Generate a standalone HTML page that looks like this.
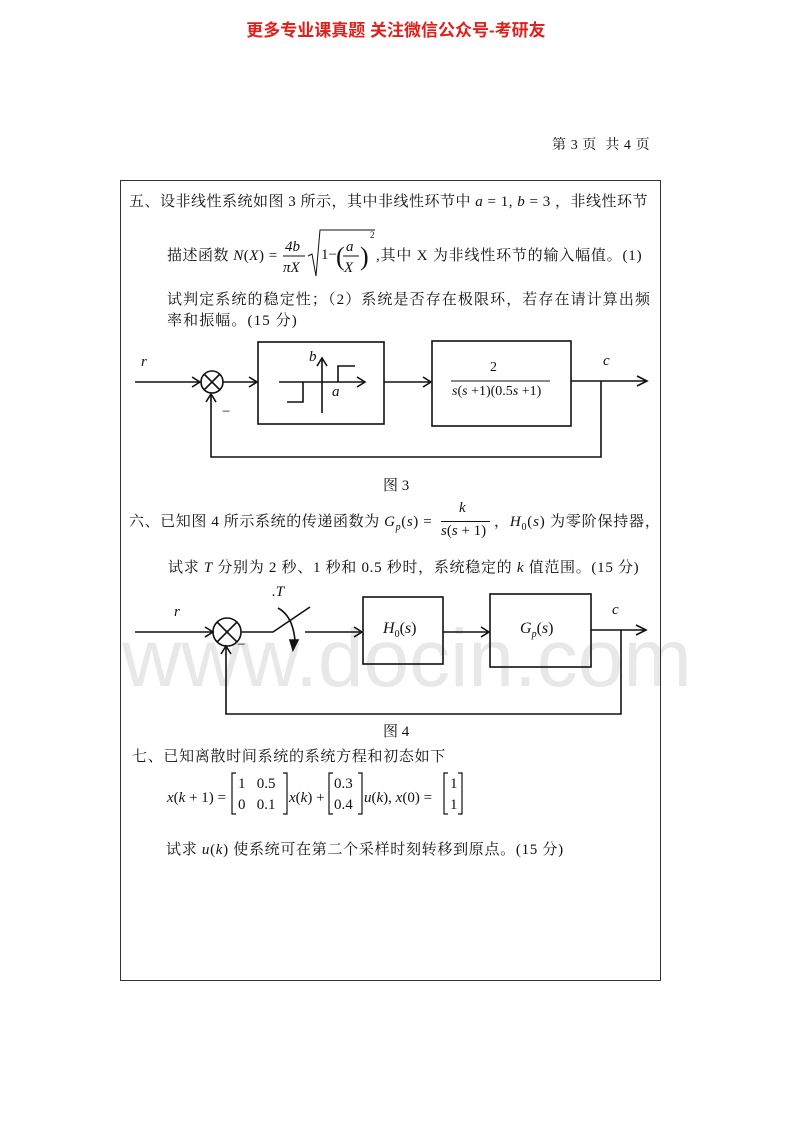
<!DOCTYPE html>
<html><head><meta charset="utf-8"><style>
body{margin:0;background:#fff;}
#p{position:relative;width:792px;height:1122px;overflow:hidden;font-family:"Liberation Serif","Noto Serif CJK SC","Noto Sans CJK SC",serif;color:#111;}
.t{position:absolute;white-space:nowrap;font-size:15px;}
.i{font-style:italic;}
</style></head><body><div id="p">
<div class="t" style="left:122px;top:612px;font-size:82px;color:#e8e8e8;font-family:'Liberation Sans',sans-serif;">www.docin.com</div>
<div class="t" style="left:0;width:792px;text-align:center;top:16px;font-size:17px;font-weight:bold;color:#e0201c;font-family:'Liberation Sans','Noto Sans CJK SC',sans-serif;">更多专业课真题 关注微信公众号-考研友</div>
<div class="t" style="left:552px;top:134px;font-size:14px;letter-spacing:0.6px;">第 3 页&nbsp;&nbsp;共 4 页</div>
<div style="position:absolute;left:120px;top:180px;width:539px;height:799px;border:1.5px solid #333;"></div>

<div class="t" style="left:129px;top:190px;letter-spacing:0.5px;">五、设非线性系统如图 3 所示，其中非线性环节中 <span class="i">a</span> = 1, <span class="i">b</span> = 3 ，非线性环节</div>
<div class="t" style="left:167px;top:244px;letter-spacing:0.5px;">描述函数 <span class="i">N</span>(<span class="i">X</span>) =</div>
<svg style="position:absolute;left:0;top:0" width="792" height="1122">
<g font-family="Liberation Serif" font-style="italic" font-size="15" fill="#111">
<text x="285" y="251">4b</text><line x1="283" y1="256" x2="305" y2="256" stroke="#111"/><text x="283" y="272">πX</text>
<polyline points="308,256 312,254 316,276 320,230 375,230" fill="none" stroke="#111"/>
<text x="321" y="259" font-style="normal">1−</text>
<text x="336" y="265" font-style="normal" font-size="26">(</text>
<text x="346" y="251">a</text><line x1="343" y1="256" x2="359" y2="256" stroke="#111"/><text x="344" y="272">X</text>
<text x="360" y="265" font-style="normal" font-size="26">)</text>
<text x="370" y="238" font-style="normal" font-size="9">2</text>
</g>
</svg>
<div class="t" style="left:376px;top:244px;letter-spacing:0.8px;">,其中 X 为非线性环节的输入幅值。(1)</div>
<div class="t" style="left:167px;top:288px;letter-spacing:1.1px;">试判定系统的稳定性；（2）系统是否存在极限环，若存在请计算出频</div>
<div class="t" style="left:167px;top:309px;letter-spacing:1.1px;">率和振幅。(15 分)</div>

<svg style="position:absolute;left:0;top:0" width="792" height="1122" fill="none" stroke="#111" stroke-width="1.6">
<line x1="135" y1="382" x2="200" y2="382"/><polyline points="192,377 200,382 192,387"/>
<circle cx="212" cy="382" r="11"/><line x1="204" y1="374" x2="220" y2="390"/><line x1="220" y1="374" x2="204" y2="390"/>
<line x1="223" y1="382" x2="257" y2="382"/><polyline points="249,377 257,382 249,387"/>
<rect x="258" y="342" width="126" height="82"/>
<line x1="279" y1="382" x2="365" y2="382"/><polyline points="357,377 365,382 357,387"/>
<line x1="322" y1="413" x2="322" y2="358"/><polyline points="317,366 322,358 327,366"/>
<polyline points="287,402 303,402 303,382"/><polyline points="338,382 338,366 355,366"/>
<line x1="384" y1="382" x2="431" y2="382"/><polyline points="423,377 431,382 423,387"/>
<rect x="432" y="341" width="139" height="85"/>
<line x1="451" y1="381" x2="550" y2="381" stroke-width="1"/>
<line x1="571" y1="381" x2="647" y2="381"/><polyline points="637,376 647,381 637,386"/>
<polyline points="601,381 601,457 211,457 211,395"/><polyline points="206,402 211,394 216,402"/>
<line x1="135" y1="632" x2="213" y2="632"/><polyline points="205,627 213,632 205,637"/>
<circle cx="227" cy="632" r="14"/><line x1="217" y1="622" x2="237" y2="642"/><line x1="237" y1="622" x2="217" y2="642"/>
<polyline points="241,632 273,632 310,607"/>
<path d="M278,608 Q293,616 295,641"/><polygon points="290,640 298,640 293,650" fill="#111"/>
<line x1="305" y1="632" x2="362" y2="632"/><polyline points="354,627 362,632 354,637"/>
<rect x="363" y="597" width="80" height="67"/>
<line x1="443" y1="632" x2="489" y2="632"/><polyline points="481,627 489,632 481,637"/>
<rect x="490" y="594" width="101" height="73"/>
<line x1="591" y1="630" x2="646" y2="630"/><polyline points="636,625 646,630 636,635"/>
<polyline points="621,630 621,714 226,714 226,647"/><polyline points="221,654 226,646 231,654"/>
</svg>
<div class="t i" style="left:141px;top:354px;">r</div>
<div class="t i" style="left:603px;top:353px;">c</div>
<div class="t" style="left:222px;top:404px;">−</div>
<div class="t i" style="left:309px;top:349px;">b</div>
<div class="t i" style="left:332px;top:384px;">a</div>
<div class="t" style="left:490px;top:360px;font-size:14px;">2</div>
<div class="t i" style="left:452px;top:384px;font-size:14px;">s<span style="font-style:normal">(</span>s<span style="font-style:normal"> +1)(0.5</span>s<span style="font-style:normal"> +1)</span></div>
<div class="t" style="left:383px;top:474px;">图 3</div>

<div class="t" style="left:129px;top:510px;letter-spacing:0.6px;">六、已知图 4 所示系统的传递函数为 <span class="i">G<sub style="font-size:10px">p</sub></span>(<span class="i">s</span>) =</div>
<div class="t i" style="left:459px;top:500px;">k</div>
<div style="position:absolute;left:441px;top:521px;width:49px;border-top:1px solid #111;"></div>
<div class="t" style="left:441px;top:523px;"><span class="i">s</span>(<span class="i">s</span> + 1)</div>
<div class="t" style="left:494px;top:510px;letter-spacing:0.8px;">，<span class="i">H</span><sub style="font-size:10px">0</sub>(<span class="i">s</span>) 为零阶保持器，</div>
<div class="t" style="left:168px;top:556px;letter-spacing:0.7px;">试求 <span class="i">T</span> 分别为 2 秒、1 秒和 0.5 秒时，系统稳定的 <span class="i">k</span> 值范围。(15 分)</div>
<div class="t i" style="left:174px;top:604px;">r</div>
<div class="t i" style="left:272px;top:584px;">.T</div>
<div class="t" style="left:237px;top:637px;">−</div>
<div class="t i" style="left:383px;top:620px;font-size:16px;">H<sub style="font-size:10px;font-style:normal">0</sub><span style="font-style:normal">(</span>s<span style="font-style:normal">)</span></div>
<div class="t i" style="left:520px;top:620px;font-size:16px;">G<sub style="font-size:10px">p</sub><span style="font-style:normal">(</span>s<span style="font-style:normal">)</span></div>
<div class="t i" style="left:612px;top:602px;">c</div>
<div class="t" style="left:383px;top:720px;">图 4</div>

<div class="t" style="left:132px;top:745px;letter-spacing:0.7px;">七、已知离散时间系统的系统方程和初态如下</div>
<div class="t" style="left:167px;top:790px;"><span class="i">x</span>(<span class="i">k</span> + 1) =</div>
<svg style="position:absolute;left:0;top:0" width="792" height="1122" fill="none" stroke="#111" stroke-width="1.2">
<polyline points="236,773 232,773 232,814 236,814"/><polyline points="283,773 287,773 287,814 283,814"/>
<polyline points="333,773 329,773 329,814 333,814"/><polyline points="358,773 362,773 362,814 358,814"/>
<polyline points="448,773 444,773 444,814 448,814"/><polyline points="458,773 462,773 462,814 458,814"/>
</svg>
<div class="t" style="left:238px;top:776px;">1&nbsp;&nbsp;&nbsp;0.5</div>
<div class="t" style="left:238px;top:797px;">0&nbsp;&nbsp;&nbsp;0.1</div>
<div class="t" style="left:289px;top:790px;"><span class="i">x</span>(<span class="i">k</span>) +</div>
<div class="t" style="left:334px;top:776px;">0.3</div>
<div class="t" style="left:334px;top:797px;">0.4</div>
<div class="t" style="left:364px;top:790px;"><span class="i">u</span>(<span class="i">k</span>), <span class="i">x</span>(0) =</div>
<div class="t" style="left:450px;top:776px;">1</div>
<div class="t" style="left:450px;top:797px;">1</div>
<div class="t" style="left:166px;top:838px;letter-spacing:0.7px;">试求 <span class="i">u</span>(<span class="i">k</span>) 使系统可在第二个采样时刻转移到原点。(15 分)</div>
</div></body></html>
